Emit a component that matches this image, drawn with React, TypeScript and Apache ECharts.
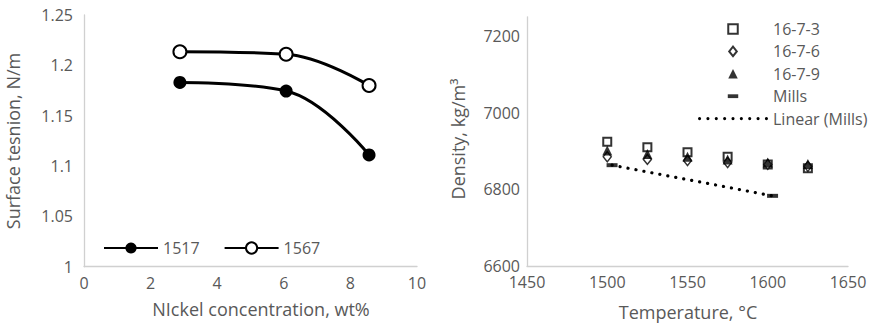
import React, { useEffect, useRef } from 'react';
import * as echarts from 'echarts';

// Left chart: surface tension vs nickel concentration
const nickelX = [2.88, 6.07, 8.56];
const st1517 = [1.183, 1.1745, 1.111];
const st1567 = [1.2135, 1.211, 1.18];

// Right chart: density vs temperature
const temps = [1500, 1525, 1550, 1575, 1600, 1625];
const d1673 = [6924, 6910, 6897, 6885, 6865, 6855];
const d1676 = [6885, 6878, 6875, 6870, 6865, 6860];
const d1679 = [6901, 6892, 6885, 6878, 6870, 6866];
const millsT = [1503, 1603];
const millsD = [6863, 6783];

const leftXTicks = { min: 0, max: 10, interval: 2 };
const leftYTicks = { min: 1, max: 1.25, interval: 0.05 };
const rightXTicks = { min: 1450, max: 1650, interval: 50 };
const rightYTicks = { min: 6600, max: 7250, interval: 200 };

const FONT = '"Open Sans", sans-serif';
const GREY = '#595959';
const AXIS = '#d0d0d0';

function linearFit(xs: number[], ys: number[]) {
  const n = xs.length;
  const mx = xs.reduce((a, b) => a + b, 0) / n;
  const my = ys.reduce((a, b) => a + b, 0) / n;
  let num = 0, den = 0;
  for (let i = 0; i < n; i++) { num += (xs[i] - mx) * (ys[i] - my); den += (xs[i] - mx) ** 2; }
  const b = num / den;
  const a = my - b * mx;
  return (x: number) => a + b * x;
}

function dotsPath() {
  let d = 'path://';
  for (let i = 0; i < 9; i++) {
    const x = i * 8.5;
    d += `M${x},1.6a1.6,1.6 0 1,0 3.2,0a1.6,1.6 0 1,0 -3.2,0z`;
  }
  return d;
}

export default function App() {
  const ref = useRef<HTMLDivElement>(null);
  useEffect(() => {
    if (!ref.current) return;
    const chart = echarts.init(ref.current, undefined, { renderer: 'svg' });
    const fit = linearFit(millsT, millsD);
    const trend = [millsT[0], millsT[millsT.length - 1]].map((t) => [t, fit(t)]);

    const axisCommon = {
      axisLine: { show: true, lineStyle: { color: AXIS, width: 1.3 } },
      axisTick: { show: false },
      splitLine: { show: false },
    };
    const labelStyle = { color: GREY, fontFamily: FONT, fontSize: 16, formatter: (v: number) => String(v) };

    const textEl = (text: string, x: number, y: number, rot = 0) => ({
      type: 'text',
      x, y, rotation: rot,
      style: {
        text, fill: GREY, font: `18px ${FONT}`,
        align: 'center', verticalAlign: 'middle',
        textAlign: 'center', textVerticalAlign: 'middle',
      },
    });

    chart.setOption({
      animation: false,
      backgroundColor: '#fff',
      grid: [
        { left: 84, top: 15, width: 333, height: 251.7 },
        { left: 527, top: 16.8, width: 321, height: 249.2 },
      ],
      xAxis: [
        { gridIndex: 0, type: 'value', ...leftXTicks, ...axisCommon, axisLabel: { ...labelStyle, margin: 8 } },
        { gridIndex: 1, type: 'value', ...rightXTicks, ...axisCommon, axisLabel: { ...labelStyle, margin: 8 } },
      ],
      yAxis: [
        { gridIndex: 0, type: 'value', ...leftYTicks, ...axisCommon, axisLabel: { ...labelStyle, margin: 11 } },
        { gridIndex: 1, type: 'value', ...rightYTicks, ...axisCommon, axisLabel: { ...labelStyle, margin: 7, showMaxLabel: false } },
      ],
      legend: [
        {
          left: 103, top: 240, orient: 'horizontal', padding: 0,
          itemWidth: 54, itemHeight: 14, itemGap: 24,
          textStyle: { color: GREY, fontFamily: FONT, fontSize: 16 },
          data: ['1517', '1567'],
        },
        {
          left: 698, top: 21, orient: 'vertical', padding: 0,
          itemWidth: 70, itemHeight: 9.5, itemGap: 6.4, symbolKeepAspect: true,
          textStyle: { color: GREY, fontFamily: FONT, fontSize: 16, lineHeight: 14 },
          data: [
            { name: '16-7-3', icon: 'path://M0,0h10v10h-10z' },
            { name: '16-7-6', icon: 'path://M4,0L8,5L4,10L0,5z' },
            { name: '16-7-9', icon: 'path://M5,0L10,10L0,10z' },
            { name: 'Mills', icon: 'path://M0,0L0,0M0,3h11v4h-11zM0,10L0,10' },
            { name: 'Linear (Mills)', icon: dotsPath() },
          ],
        },
      ],
      graphic: [
        textEl('Surface tesnion, N/m', 13, 141, Math.PI / 2),
        textEl('NIckel concentration, wt%', 261, 309),
        textEl('Density, kg/m³', 458, 139, Math.PI / 2),
        textEl('Temperature, °C', 688, 312),
      ],
      series: [
        {
          name: '1517', type: 'line', xAxisIndex: 0, yAxisIndex: 0,
          data: nickelX.map((x, i) => [x, st1517[i]]),
          smooth: 0.4, symbol: 'circle', symbolSize: 13,
          lineStyle: { color: '#000', width: 3 },
          itemStyle: { color: '#000' },
        },
        {
          name: '1567', type: 'line', xAxisIndex: 0, yAxisIndex: 0,
          data: nickelX.map((x, i) => [x, st1567[i]]),
          smooth: 0.4, symbol: 'circle', symbolSize: 13,
          lineStyle: { color: '#000', width: 3 },
          itemStyle: { color: '#fff', borderColor: '#000', borderWidth: 2 },
        },
        {
          name: '16-7-3', type: 'scatter', xAxisIndex: 1, yAxisIndex: 1,
          data: temps.map((t, i) => [t, d1673[i]]),
          symbol: 'rect', symbolSize: 8,
          itemStyle: { color: '#fff', borderColor: '#000', borderWidth: 2 },
        },
        {
          name: '16-7-6', type: 'scatter', xAxisIndex: 1, yAxisIndex: 1,
          data: temps.map((t, i) => [t, d1676[i]]),
          symbol: 'diamond', symbolSize: [8, 10],
          itemStyle: { color: '#fff', borderColor: '#000', borderWidth: 1.5 },
        },
        {
          name: '16-7-9', type: 'scatter', xAxisIndex: 1, yAxisIndex: 1,
          data: temps.map((t, i) => [t, d1679[i]]),
          symbol: 'triangle', symbolSize: 10,
          itemStyle: { color: '#000' },
        },
        {
          name: 'Mills', type: 'scatter', xAxisIndex: 1, yAxisIndex: 1,
          data: millsT.map((t, i) => [t, millsD[i]]),
          symbol: 'rect', symbolSize: [11, 4],
          itemStyle: { color: '#000' },
        },
        {
          name: 'Linear (Mills)', type: 'line', xAxisIndex: 1, yAxisIndex: 1,
          data: trend, symbol: 'none', z: 1,
          lineStyle: { color: '#000', width: 3.2, type: [0.1, 8], cap: 'round' },
          itemStyle: { color: '#000' },
        },
      ],
    });
    return () => chart.dispose();
  }, []);
  return <div ref={ref} style={{ position: 'fixed', left: 0, top: 0, width: 877, height: 324 }} />;
}
